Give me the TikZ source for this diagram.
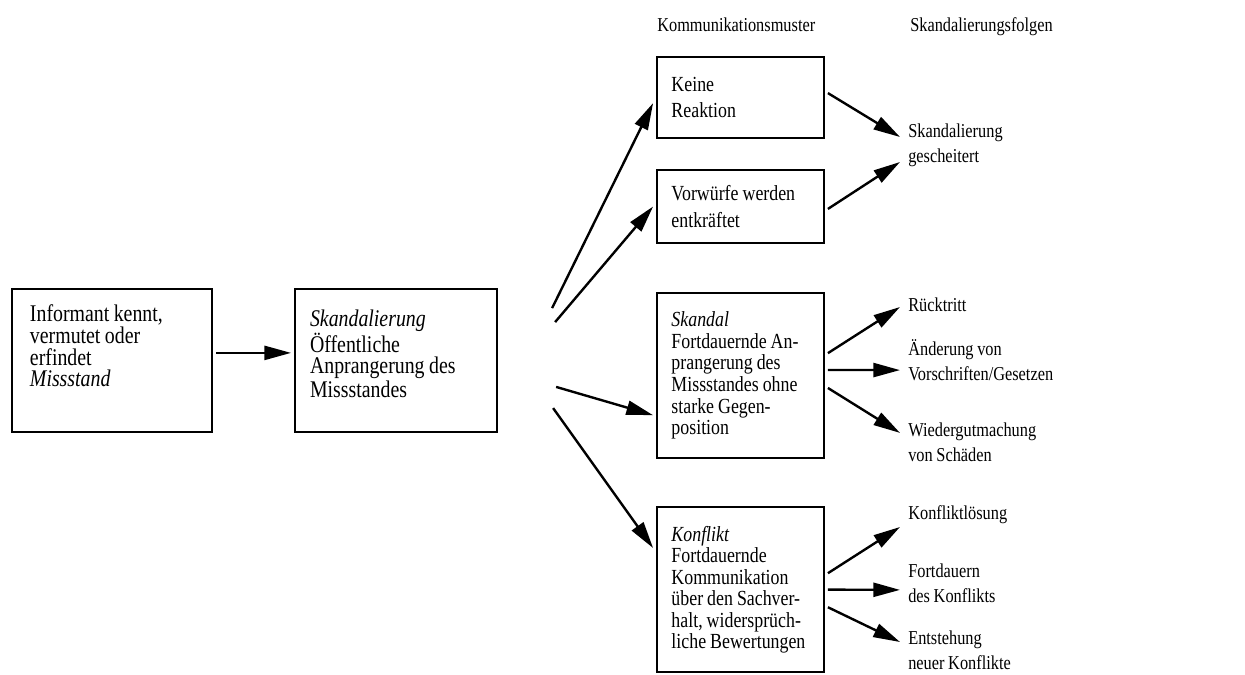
\documentclass[tikz,border=0pt]{standalone}
\usepackage{fontspec}
\setmainfont{Liberation Serif}[FakeStretch=0.83, WordSpace=0.9]
\usetikzlibrary{arrows.meta, positioning}

\begin{document}
\begin{tikzpicture}[
        x=0.025cm, y={(0cm,-0.025cm)},
        box/.style={rectangle, draw=black, line width=1.8pt, outer sep=0.1cm,
                    align=flush left, inner ysep=0.2cm, inner xsep=0.36cm, text width=3.45cm,
                    font=\fontsize{15.3pt}{15.3pt}\selectfont},
        shortbox/.style={box, font=\fontsize{15.3pt}{18.5pt}\selectfont},
        bigbox/.style={rectangle, draw=black, line width=1.8pt, outer sep=0.1cm,
                    inner ysep=0.4cm, font=\fontsize{17pt}{15.4pt}\selectfont},
        result/.style={anchor=west, align=flush left, inner xsep=0.2cm, inner ysep=0pt,
                    font=\fontsize{14pt}{18pt}\selectfont},
        head/.style={anchor=base west, inner sep=0pt, font=\fontsize{14pt}{18pt}\selectfont},
        arrow/.style={-{Triangle[length=19pt,width=10pt]}, line width=1.7pt}
      ]
        \useasboundingbox (0,0) rectangle (1245,675);
        \node[head] (muster) at (657,32) {Kommunikationsmuster};
        \node[head] (folgen) at (910,32) {Skandalierungsfolgen};

        \node[bigbox, inner xsep=0.45cm] (inform) at (112,360.5)
            {\parbox[t][2.775cm][t]{4.1cm}{\raggedright Informant kennt,\\vermutet oder\\erfindet\\\textit{Missstand}}};
        \node[bigbox, inner xsep=0.375cm, right=1.875cm of inform] (skand)
            {\parbox[t][2.775cm][t]{4.3cm}{\raggedright\vspace*{0.12cm}\textit{Skandalierung}\\Öffentliche\\Anprangerung des\\Missstandes}};

        \node[shortbox, minimum height=2.025cm] (keine) at (740.5,97.5) {Keine\\Reaktion};
        \node[shortbox, minimum height=1.825cm, below=0.6cm of keine] (vorw) {Vorwürfe werden\\entkräftet};
        \node[box, minimum height=4.125cm, below=1.05cm of vorw] (skandal)
            {\textit{Skandal}\\Fortdauernde An-\\prangerung des\\Missstandes ohne\\starke Gegen-\\position};
        \node[box, minimum height=4.125cm, below=1.025cm of skandal] (konflikt)
            {\textit{Konflikt}\\Fortdauernde\\Kommunikation\\über den Sachver-\\halt, widersprüch-\\liche Bewertungen};

        \node[result] (fail) at (900,145) {Skandalierung\\gescheitert};
        \node[result] (resign) at (900,305) {Rücktritt};
        \node[result] (rules) at (900,360.5) {Änderung von\\Vorschriften/Gesetzen};
        \node[result] (repair) at (900,442.5) {Wiedergutmachung\\von Schäden};
        \node[result] (solve) at (900,515) {Konfliktlösung};
        \node[result] (persist) at (900,583.5) {Fortdauern\\des Konflikts};
        \node[result] (newconf) at (900,650) {Entstehung\\neuer Konflikte};

        \draw[arrow] ([yshift=0.19cm]inform.east) -- ([yshift=0.19cm]skand.west);
        \draw[arrow] ([xshift=1.275cm,yshift=1.31cm]skand.east) -- ([yshift=-0.14cm]keine.west);
        \draw[arrow] ([xshift=1.35cm,yshift=0.96cm]skand.east) -- (vorw.west);
        \draw[arrow] ([xshift=1.375cm,yshift=-0.66cm]skand.east) -- ([yshift=-0.99cm]skandal.west);
        \draw[arrow] ([xshift=1.3cm,yshift=-1.19cm]skand.east) -- ([yshift=1.04cm]konflikt.west);

        \draw[arrow] ([yshift=0.11cm]keine.east) -- ([yshift=0.2cm]fail.west);
        \draw[arrow] ([yshift=-0.06cm]vorw.east) -- ([yshift=-0.425cm]fail.west);
        \draw[arrow] ([yshift=0.56cm]skandal.east) -- ([yshift=-0.05cm]resign.west);
        \draw[arrow] ([yshift=0.14cm]skandal.east) -- ([yshift=-0.24cm]rules.west);
        \draw[arrow] ([yshift=-0.31cm]skandal.east) -- ([yshift=0.24cm]repair.west);
        \draw[arrow] ([yshift=0.41cm]konflikt.east) -- ([yshift=-0.3cm]solve.west);
        \draw[arrow] (konflikt.east) -- ([yshift=-0.16cm]persist.west);
        \draw[arrow] ([yshift=-0.44cm]konflikt.east) -- ([yshift=0.2cm]newconf.west);
      \end{tikzpicture}
\end{document}
